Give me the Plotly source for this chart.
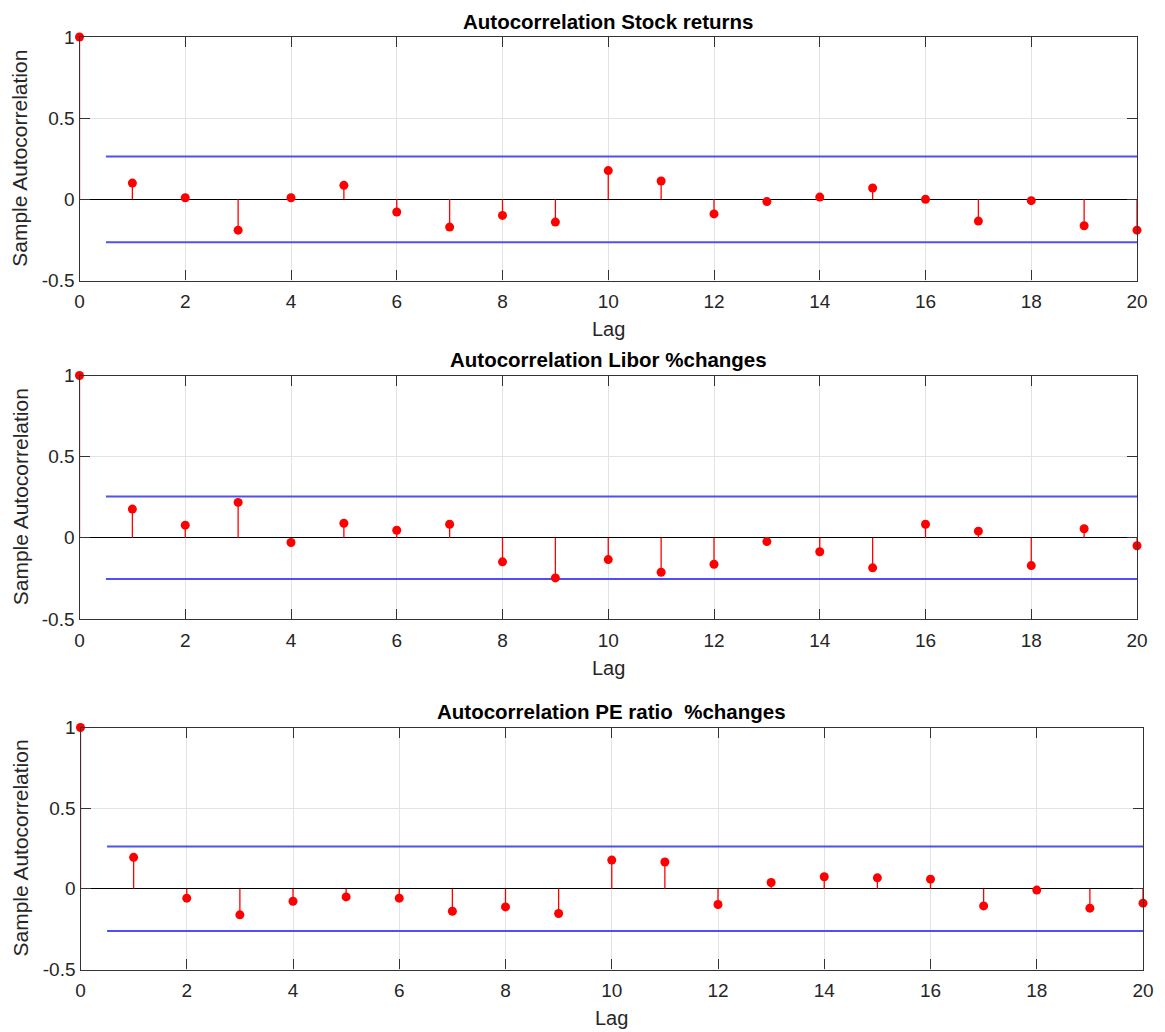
import plotly.graph_objects as go

lags = list(range(0, 21))

stock_acf = [1.0, 0.10, 0.01, -0.19, 0.01, 0.086, -0.078, -0.171, -0.099, -0.14,
             0.177, 0.113, -0.09, -0.014, 0.014, 0.07, 0.0, -0.134, -0.008, -0.163, -0.19]
libor_acf = [1.0, 0.177, 0.078, 0.218, -0.029, 0.09, 0.047, 0.084, -0.148, -0.247,
             -0.134, -0.212, -0.163, -0.023, -0.086, -0.185, 0.084, 0.041, -0.171, 0.056, -0.049]
pe_acf = [1.0, 0.195, -0.058, -0.161, -0.077, -0.05, -0.058, -0.139, -0.112, -0.153,
          0.178, 0.166, -0.097, 0.039, 0.075, 0.068, 0.06, -0.106, -0.008, -0.12, -0.089]

stock_bound = 0.264
libor_bound = 0.254
pe_bound = 0.262

titles = ["Autocorrelation Stock returns", "Autocorrelation Libor %changes",
          "Autocorrelation PE ratio  %changes"]
x_label = "Lag"
y_label = "Sample Autocorrelation"
x_ticks = list(range(0, 21, 2))
y_ticks = [-0.5, 0, 0.5, 1]
y_ticktext = ["-0.5", "0", "0.5", "1"]

O = 8  # page body margin
W, H = 1165 - O, 1032 - O
# pixel layout of each panel in the window: (left, right, top, bottom)
panels = [(79.5, 1137, 37, 280.5), (79.5, 1137, 375.5, 619), (80.5, 1143, 727.5, 969.5)]

series = [stock_acf, libor_acf, pe_acf]
bounds = [stock_bound, libor_bound, pe_bound]

RED = "#ff0000"
BLUE = "#5050f2"
FONT = "Liberation Sans, Arial, sans-serif"


def px(v):
    return (v - O) / W


def py(v):
    return 1 - (v - O) / H


fig = go.Figure()
layout = dict(width=W, height=H, margin=dict(l=0, r=0, t=0, b=0, autoexpand=False),
              paper_bgcolor="white", plot_bgcolor="white", showlegend=False,
              font=dict(family=FONT, color="#262626", size=19))
annotations = []

for i, (vals, b, (l, r, t, bt)) in enumerate(zip(series, bounds, panels)):
    n = "" if i == 0 else str(i + 1)
    xa, ya = "x" + n, "y" + n
    # stems
    sx, sy = [], []
    for k, v in zip(lags, vals):
        sx += [k, k, None]
        sy += [0, v, None]
    fig.add_trace(go.Scatter(x=sx, y=sy, mode="lines", line=dict(color=RED, width=1.3),
                             xaxis=xa, yaxis=ya, hoverinfo="skip"))
    # bounds
    for s in (1, -1):
        fig.add_trace(go.Scatter(x=[0.5, lags[-1]], y=[s * b, s * b], mode="lines",
                                 line=dict(color=BLUE, width=2), xaxis=xa, yaxis=ya))
    # markers
    fig.add_trace(go.Scatter(x=lags, y=vals, mode="markers",
                             marker=dict(color=RED, size=9, line=dict(width=0)),
                             xaxis=xa, yaxis=ya, cliponaxis=False))
    common = dict(showline=True, mirror="ticks", linecolor="#333333", linewidth=1.3,
                  ticks="inside", ticklen=10, tickcolor="#333333", tickwidth=1,
                  showgrid=True, gridcolor="#e3e3e3", gridwidth=1, automargin=False,
                  tickfont=dict(size=19, color="#262626", family=FONT))
    layout["xaxis" + n] = dict(common, domain=[px(l), px(r)], range=[0, 20],
                               tickvals=x_ticks, zeroline=False, anchor=ya,
                               ticklabelstandoff=4)
    layout["yaxis" + n] = dict(common, domain=[py(bt), py(t)], range=[-0.5, 1],
                               tickvals=y_ticks, ticktext=y_ticktext,
                               zeroline=True, zerolinecolor="#000000", zerolinewidth=1.3,
                               anchor=xa)
    cx = px((l + r) / 2)
    ann = dict(xref="paper", yref="paper", showarrow=False, xanchor="center", yanchor="middle")
    annotations.append(dict(ann, text="<b>" + titles[i] + "</b>", x=cx, y=py(t - 16),
                            font=dict(size=20.5, family=FONT, color="#000000")))
    annotations.append(dict(ann, text=x_label, x=cx, y=py(bt + 48.5),
                            font=dict(size=20, family=FONT, color="#262626")))
    annotations.append(dict(ann, text=y_label, x=px(20), y=py((t + bt) / 2), textangle=-90,
                            font=dict(size=21, family=FONT, color="#262626")))

layout["annotations"] = annotations
fig.update_layout(**layout)
fig.write_html("out.html")
